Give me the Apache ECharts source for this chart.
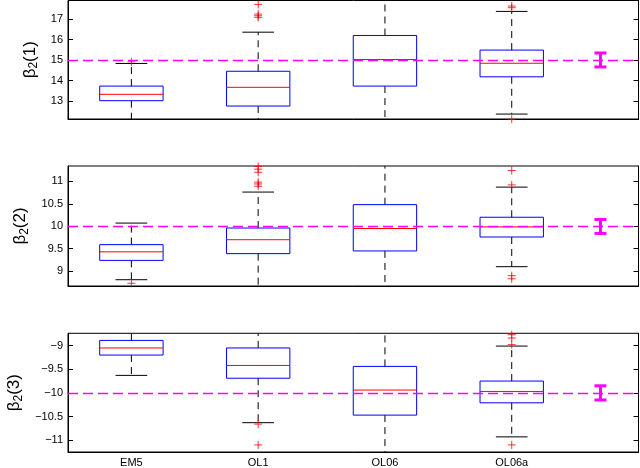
<!DOCTYPE html>
<html><head><meta charset="utf-8">
<script src="https://cdn.jsdelivr.net/npm/echarts@6/dist/echarts.min.js"></script>
<style>html,body{margin:0;padding:0;background:#fff}#c{width:640px;height:468px}</style>
</head><body><div id="c"></div>
<script>
const categories = ['EM5', 'OL1', 'OL06', 'OL06a'];
const trueValues = [15, 10, -10];
const paramLabels = ['(1)', '(2)', '(3)'];
// [lowerWhisker, q1, median, q3, upperWhisker]
const boxes1 = [[11.9, 13.03, 13.34, 13.74, 14.84], [11.5, 12.77, 13.68, 14.46, 16.36], [11.3, 13.74, 15.03, 16.2, 18.5], [12.38, 14.19, 14.85, 15.49, 17.37]];
const outliers1 = [[14.92], [17.08, 17.16, 17.24, 17.71], [], [17.55, 17.63, 12.13]];
const boxes2 = [[8.81, 9.24, 9.43, 9.59, 10.07], [8.5, 9.39, 9.70, 9.96, 10.76], [8.4, 9.45, 9.95, 10.48, 11.6], [9.10, 9.76, 9.985, 10.2, 10.87]];
const outliers2 = [[8.73], [10.89, 10.94, 10.98, 11.2, 11.27, 11.33], [], [8.83, 8.90, 10.92, 11.24]];
const boxes3 = [[-9.63, -9.20, -9.05, -8.89, -8.5], [-10.63, -9.69, -9.42, -9.05, -8.5], [-11.5, -10.47, -9.94, -9.44, -8.5], [-10.93, -10.21, -9.97, -9.75, -9.01]];
const outliers3 = [[], [-10.66, -11.10], [], [-11.10, -8.98, -8.84, -8.77]];
const errorBars = [[14.67, 15.35], [9.84, 10.15], [-10.15, -9.85]];
const errorBarX = 4.7;
const yRanges = [[12.14, 17.9], [8.67, 11.34], [-11.25, -8.74]];
const yTicks = [[13, 14, 15, 16, 17], [9, 9.5, 10, 10.5, 11], [-11, -10.5, -10, -9.5, -9]];

const allBoxes = [boxes1, boxes2, boxes3];
const allOutliers = [outliers1, outliers2, outliers3];
const gridTops = [0.5, 166, 333.3];
const gridHeights = [118.5, 120, 118.7];
const FONT = '"Liberation Sans", Arial, sans-serif';

function renderBox(params, api) {
  const x = api.value(0);
  const pLo = api.coord([x, api.value(1)]);
  const pQ1 = api.coord([x, api.value(2)]);
  const pMd = api.coord([x, api.value(3)]);
  const pQ3 = api.coord([x, api.value(4)]);
  const pHi = api.coord([x, api.value(5)]);
  const hw = api.size([0.25, 0])[0];
  const cw = api.size([0.125, 0])[0];
  const cx = pMd[0];
  const dash = { stroke: '#000', lineWidth: 1, lineDash: [7, 5] };
  const solid = { stroke: '#000', lineWidth: 1 };
  return {
    type: 'group', children: [
      { type: 'line', shape: { x1: cx, y1: pQ3[1], x2: cx, y2: pHi[1] }, style: dash },
      { type: 'line', shape: { x1: cx, y1: pQ1[1], x2: cx, y2: pLo[1] }, style: dash },
      { type: 'line', shape: { x1: cx - cw, y1: pHi[1], x2: cx + cw, y2: pHi[1] }, style: solid },
      { type: 'line', shape: { x1: cx - cw, y1: pLo[1], x2: cx + cw, y2: pLo[1] }, style: solid },
      { type: 'rect', shape: { x: cx - hw, y: pQ3[1], width: 2 * hw, height: pQ1[1] - pQ3[1] }, style: { fill: 'none', stroke: '#0000ff', lineWidth: 1 } },
      { type: 'line', shape: { x1: cx - hw, y1: pMd[1], x2: cx + hw, y2: pMd[1] }, style: { stroke: '#ff0000', lineWidth: 1 } }
    ]
  };
}
function renderErr(params, api) {
  const x = api.value(0);
  const a = api.coord([x, api.value(1)]);
  const b = api.coord([x, api.value(2)]);
  const s = { stroke: '#ff00ff', lineWidth: 3 };
  return {
    type: 'group', children: [
      { type: 'line', shape: { x1: a[0], y1: a[1], x2: b[0], y2: b[1] }, style: s },
      { type: 'line', shape: { x1: a[0] - 6, y1: a[1], x2: a[0] + 6, y2: a[1] }, style: s },
      { type: 'line', shape: { x1: b[0] - 6, y1: b[1], x2: b[0] + 6, y2: b[1] }, style: s }
    ]
  };
}

const grids = [], xAxes = [], yAxes = [], series = [];
for (let p = 0; p < 3; p++) {
  grids.push({ left: 68, right: 1.5, top: gridTops[p], height: gridHeights[p], show: true, borderColor: '#000', borderWidth: 1, backgroundColor: 'transparent', containLabel: false, outerBoundsMode: 'none' });
  xAxes.push({
    type: 'value', gridIndex: p, min: 0.5, max: 5,
    axisLine: { show: true, lineStyle: { color: '#000' } },
    axisTick: { show: false },
    splitLine: { show: false },
    axisLabel: p === 2 ? {
      show: true, customValues: [1, 2, 3, 4], formatter: v => categories[Math.round(v) - 1],
      color: '#000', fontSize: 11, fontFamily: FONT, margin: 5
    } : { show: false }
  });
  yAxes.push({
    type: 'value', gridIndex: p, min: yRanges[p][0], max: yRanges[p][1], position: 'left',
    axisLine: { show: true, lineStyle: { color: '#000' } },
    axisTick: { show: true, inside: true, length: 5, customValues: yTicks[p], lineStyle: { color: '#000' } },
    splitLine: { show: false },
    axisLabel: { customValues: yTicks[p], formatter: v => String(v).replace('-', '\u2212'), color: '#000', fontSize: 11, fontFamily: FONT, margin: 5 },
    name: '{b|β}{s|2}{b|' + paramLabels[p] + '}',
    nameLocation: 'middle', nameGap: 26, nameRotate: 90,
    nameTextStyle: {
      fontSize: 17, fontFamily: FONT, color: '#000',
      rich: {
        b: { fontSize: 17, fontFamily: FONT, color: '#000', lineHeight: 20 },
        s: { fontSize: 12, fontFamily: FONT, color: '#000', lineHeight: 20, verticalAlign: 'bottom' }
      }
    }
  });
  yAxes.push({
    type: 'value', gridIndex: p, min: yRanges[p][0], max: yRanges[p][1], position: 'right',
    axisLine: { show: true, lineStyle: { color: '#000' } },
    axisTick: { show: true, inside: true, length: 5, customValues: yTicks[p], lineStyle: { color: '#000' } },
    splitLine: { show: false },
    axisLabel: { show: false }
  });
  series.push({
    type: 'custom', xAxisIndex: p, yAxisIndex: 2 * p, clip: true, renderItem: renderBox,
    encode: { x: 0, y: [1, 2, 3, 4, 5] },
    data: allBoxes[p].map((b, i) => [i + 1].concat(b)), silent: true, animation: false, z: 2
  });
  const pts = [];
  allOutliers[p].forEach((arr, i) => arr.forEach(v => pts.push([i + 1, v])));
  series.push({
    type: 'scatter', xAxisIndex: p, yAxisIndex: 2 * p, clip: false,
    symbol: 'path://M0,5L10,5M5,0L5,10', symbolSize: 8,
    itemStyle: { color: 'none', borderColor: '#ff0000', borderWidth: 1 },
    data: pts, silent: true, animation: false, z: 3
  });
  series.push({
    type: 'custom', xAxisIndex: p, yAxisIndex: 2 * p, clip: false, renderItem: renderErr,
    encode: { x: 0, y: [1, 2] },
    data: [[errorBarX, errorBars[p][0], errorBars[p][1]]], silent: true, animation: false, z: 4,
    markLine: {
      silent: true, symbol: ['none', 'none'], label: { show: false }, animation: false,
      lineStyle: { color: '#ff00ff', type: [10, 5], width: 1.3 },
      data: [{ yAxis: trueValues[p] }]
    }
  });
}

const chart = echarts.init(document.getElementById('c'), null, { renderer: 'canvas' });
chart.setOption({ animation: false, grid: grids, xAxis: xAxes, yAxis: yAxes, series: series });
</script>
</body></html>
